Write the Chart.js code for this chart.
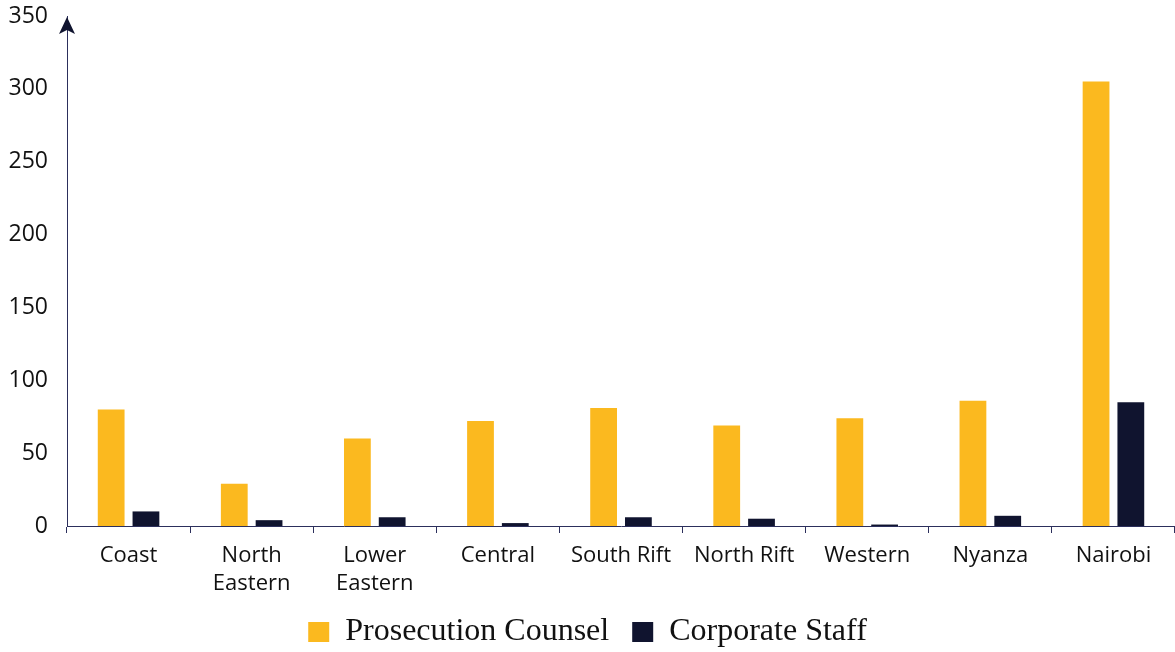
<!DOCTYPE html>
<html>
<head>
<meta charset="utf-8">
<script src="https://cdn.jsdelivr.net/npm/chart.js@4"></script>
<style>
  html, body { margin: 0; padding: 0; background: #ffffff; }
  #wrap { width: 1175px; height: 652px; }
</style>
</head>
<body>
<div id="wrap"><canvas id="myChart"></canvas></div>
<script>
// Regions on the x axis
const regions = ['Coast', ['North', 'Eastern'], ['Lower', 'Eastern'], 'Central', 'South Rift', 'North Rift', 'Western', 'Nyanza', 'Nairobi'];
// Staff counts per region
const prosecutionCounsel = [80, 29, 60, 72, 81, 69, 74, 86, 305];
const corporateStaff = [10, 4, 6, 2, 6, 5, 1, 7, 85];
// y axis range
const yMin = 0;
const yMax = 350;
const yStep = 50;

const navy = '#10142f';
const axisColor = '#2c2f5c';

// arrow head on top of the y axis
const arrowPlugin = {
    id: 'arrowHead',
    afterDraw(chart) {
        const ctx = chart.ctx;
        const x = chart.scales.y.left + chart.scales.y.width;
        const top = chart.scales.y.getPixelForValue(yMax);
        ctx.save();
        ctx.fillStyle = navy;
        ctx.beginPath();
        ctx.moveTo(x, top + 1);
        ctx.lineTo(x + 8, top + 18);
        ctx.lineTo(x, top + 14);
        ctx.lineTo(x - 8, top + 18);
        ctx.closePath();
        ctx.fill();
        ctx.restore();
    }
};

const ctx = document.getElementById('myChart').getContext('2d');
const myChart = new Chart(ctx, {
    type: 'bar',
    data: {
        labels: regions,
        datasets: [{
            label: 'Prosecution Counsel',
            data: prosecutionCounsel,
            backgroundColor: '#fbb91f',
            barPercentage: 0.77,
            categoryPercentage: 0.565
        }, {
            label: 'Corporate Staff',
            data: corporateStaff,
            backgroundColor: navy,
            barPercentage: 0.77,
            categoryPercentage: 0.565
        }]
    },
    options: {
        responsive: true,
        maintainAspectRatio: false,
        animation: false,
        layout: {
            padding: { top: 16, right: 0, bottom: -6, left: 0 }
        },
        plugins: {
            tooltip: { enabled: false },
            legend: {
                position: 'bottom',
                labels: {
                    font: { family: 'Liberation Serif', size: 32 },
                    color: '#111111',
                    boxWidth: 21,
                    boxHeight: 20,
                    padding: 23
                }
            }
        },
        scales: {
            x: {
                grid: {
                    offset: true,
                    drawOnChartArea: false,
                    drawTicks: true,
                    tickLength: 7,
                    color: axisColor
                },
                border: { display: true, color: axisColor, width: 1 },
                ticks: {
                    font: { family: 'Open Sans', size: 22, lineHeight: 1.27 },
                    color: '#111111',
                    padding: 9,
                    maxRotation: 0
                },
                afterFit(scale) { scale.height = 67; }
            },
            y: {
                min: yMin,
                max: yMax,
                grid: { display: false, drawTicks: false },
                border: { display: true, color: axisColor, width: 1 },
                ticks: {
                    stepSize: yStep,
                    font: { family: 'Open Sans', size: 23 },
                    color: '#111111',
                    padding: 19
                },
                afterFit(scale) {
                    scale.width = 67;
                    scale.paddingTop = 0;
                    scale.paddingBottom = 0;
                }
            }
        }
    },
    plugins: [arrowPlugin]
});
</script>
</body>
</html>
